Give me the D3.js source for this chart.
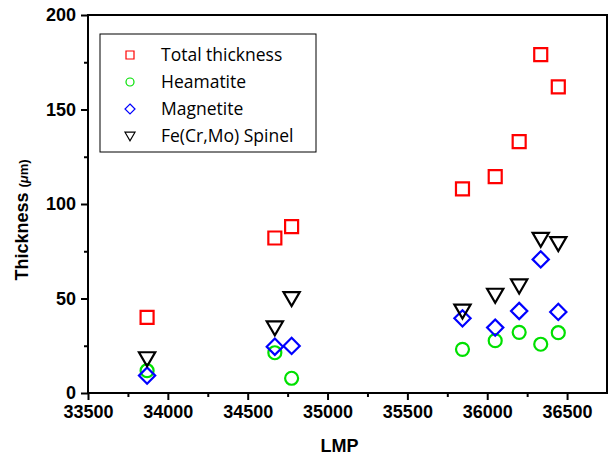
<!DOCTYPE html>
<html>
<head>
<meta charset="utf-8">
<script src="https://cdn.jsdelivr.net/npm/d3@7"></script>
<style>
  body { margin: 0; background: #fff; }
  svg { display: block; }
</style>
</head>
<body>
<svg id="chart"></svg>
<script>
// ---------------- data ----------------
const lmp       = [33870, 34670, 34775, 35845, 36050, 36200, 36335, 36445];
const total     = [40, 82, 88, 108, 114.5, 133, 179, 162];
const heamatite = [11.8, 21.3, 7.8, 23.1, 27.7, 32.1, 25.8, 31.9];
const magnetite = [9.2, 24.5, 24.9, 39.5, 34.6, 43.4, 70.7, 42.9];
const spinel    = [18.3, 34.6, 50.1, 43.5, 51.9, 56.8, 81.5, 79.2];

const xTicks = [33500, 34000, 34500, 35000, 35500, 36000, 36500];
const yTicks = [0, 50, 100, 150, 200];

const seriesNames = ["Total thickness", "Heamatite", "Magnetite", "Fe(Cr,Mo) Spinel"];
const seriesColors = ["#ff0000", "#00e000", "#0000ff", "#000000"];
const seriesShapes = ["square", "circle", "diamond", "triangle"];
const seriesValues = [total, heamatite, magnetite, spinel];

// ---------------- layout ----------------
const width = 609, height = 458;
const plotL = 88, plotR = 607, plotT = 15, plotB = 393;

const svg = d3.select("#chart")
  .attr("width", width)
  .attr("height", height);

const xScale = d3.scaleLinear().domain([33500, 36750]).range([plotL, plotR]);
const yScale = d3.scaleLinear().domain([0, 200]).range([plotB, plotT]);

const axisFont = "'Liberation Sans', Arial, sans-serif";

// marker shape path, centred on 0,0
function shapePath(shape, s) {
  if (shape === "square") return `M${-s},${-s}H${s}V${s}H${-s}Z`;
  if (shape === "diamond") return `M0,${-s * 1.25}L${s * 1.25},0L0,${s * 1.25}L${-s * 1.25},0Z`;
  if (shape === "triangle") return `M${-s * 1.25},${-s * 0.95}H${s * 1.25}L0,${s * 1.2}Z`;
  return null;
}

function drawMarker(g, shape, color, x, y, s, sw) {
  if (shape === "circle") {
    g.append("circle").attr("cx", x).attr("cy", y).attr("r", s)
      .attr("fill", "none").attr("stroke", color).attr("stroke-width", sw);
  } else {
    g.append("path").attr("d", shapePath(shape, s))
      .attr("transform", `translate(${x},${y})`)
      .attr("fill", "none").attr("stroke", color).attr("stroke-width", sw)
      .attr("stroke-linejoin", "miter");
  }
}

// ---------------- axes ----------------
// x axis (bottom)
const xAxis = svg.append("g")
  .attr("transform", `translate(0,${plotB})`)
  .call(d3.axisBottom(xScale).tickValues(xTicks).tickFormat(d3.format("d")).tickSize(7).tickPadding(5));
// minor ticks
svg.append("g")
  .attr("transform", `translate(0,${plotB})`)
  .call(d3.axisBottom(xScale).tickValues(d3.range(33750, 36750, 500)).tickFormat("").tickSize(4))
  .call(g => g.select(".domain").remove())
  .selectAll("line").attr("stroke-width", 2);

// y axis (left)
const yAxis = svg.append("g")
  .attr("transform", `translate(${plotL},0)`)
  .call(d3.axisLeft(yScale).tickValues(yTicks).tickSize(7).tickPadding(5));
svg.append("g")
  .attr("transform", `translate(${plotL},0)`)
  .call(d3.axisLeft(yScale).tickValues([25, 75, 125, 175]).tickFormat("").tickSize(4))
  .call(g => g.select(".domain").remove())
  .selectAll("line").attr("stroke-width", 2);

[xAxis, yAxis].forEach(ax => {
  ax.select(".domain").remove();
  ax.selectAll("line").attr("stroke-width", 2).attr("stroke", "#000");
  ax.selectAll("text")
    .attr("font-family", axisFont)
    .attr("font-weight", "bold")
    .attr("font-size", 18)
    .attr("fill", "#000");
});

// frame
svg.append("rect")
  .attr("x", plotL).attr("y", plotT)
  .attr("width", plotR - plotL).attr("height", plotB - plotT)
  .attr("fill", "none").attr("stroke", "#000").attr("stroke-width", 2);

// axis titles
const yTitle = svg.append("text")
  .attr("transform", `translate(28,220) rotate(-90)`)
  .attr("text-anchor", "middle")
  .attr("font-family", axisFont).attr("font-weight", "bold").attr("font-size", 18);
yTitle.append("tspan").text("Thickness ");
yTitle.append("tspan").attr("font-size", 13).text("(");
yTitle.append("tspan").attr("font-size", 13).attr("font-style", "italic").text("μ");
yTitle.append("tspan").attr("font-size", 13).text("m)");

svg.append("text")
  .attr("x", (plotL + plotR) / 2 - 8).attr("y", 452)
  .attr("text-anchor", "middle")
  .attr("font-family", axisFont).attr("font-weight", "bold").attr("font-size", 18)
  .text("LMP");

// ---------------- points ----------------
const pts = svg.append("g");
seriesValues.forEach((vals, si) => {
  vals.forEach((v, i) => {
    drawMarker(pts, seriesShapes[si], seriesColors[si], xScale(lmp[i]), yScale(v), 6.5, 2.2);
  });
});

// ---------------- legend ----------------
const legend = svg.append("g");
legend.append("rect")
  .attr("x", 100).attr("y", 34).attr("width", 216).attr("height", 118)
  .attr("fill", "#fff").attr("stroke", "#000").attr("stroke-width", 1);

seriesNames.forEach((name, i) => {
  const y = 55 + i * 27;
  drawMarker(legend, seriesShapes[i], seriesColors[i], 130, y, 4, 1.2);
  legend.append("text")
    .attr("x", 161).attr("y", y + 6)
    .attr("font-family", "'Open Sans', 'Noto Sans', sans-serif")
    .attr("font-size", 17.5)
    .attr("fill", "#000")
    .text(name);
});
</script>
</body>
</html>
